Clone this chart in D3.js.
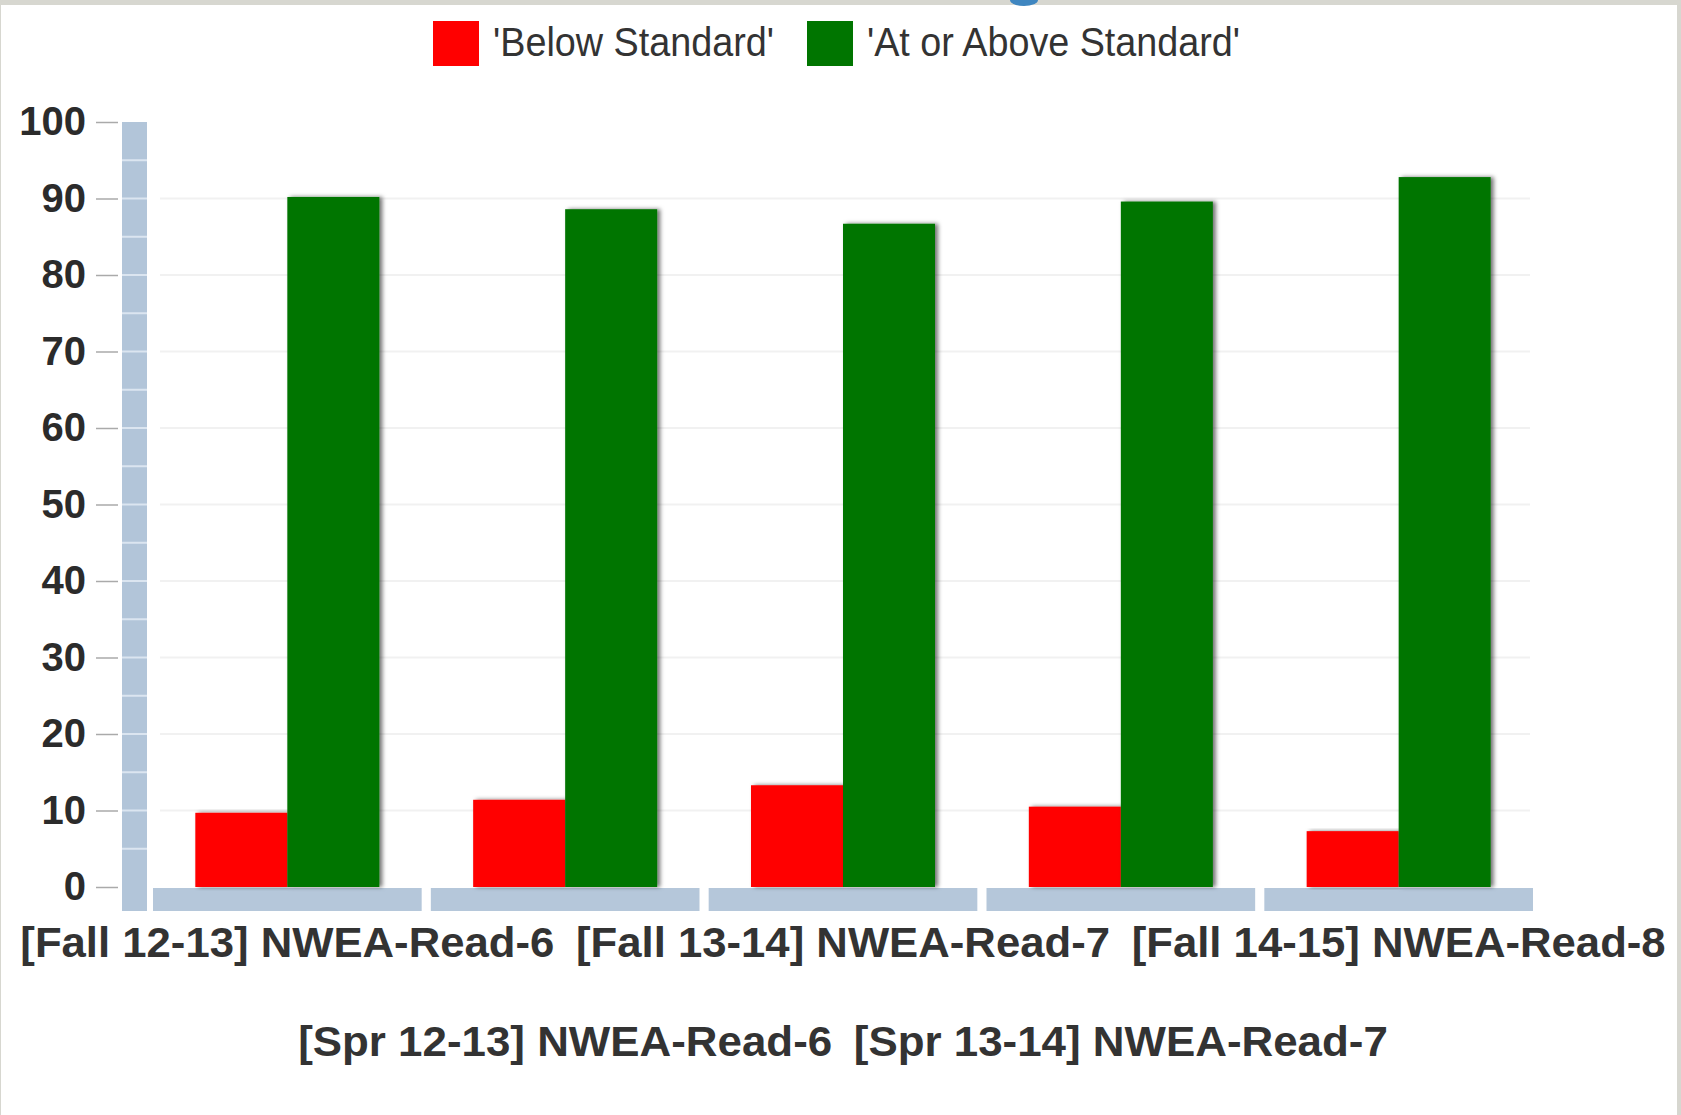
<!DOCTYPE html>
<html>
<head>
<meta charset="utf-8">
<script src="https://cdn.jsdelivr.net/npm/d3@7"></script>
<style>
  html, body { margin: 0; padding: 0; background: #d7d7d0; }
  svg { display: block; }
</style>
</head>
<body>
<div id="chart"></div>
<script>
// chart data
var categories = [
  "[Fall 12-13] NWEA-Read-6",
  "[Spr 12-13] NWEA-Read-6",
  "[Fall 13-14] NWEA-Read-7",
  "[Spr 13-14] NWEA-Read-7",
  "[Fall 14-15] NWEA-Read-8"
];
var seriesNames = ["'Below Standard'", "'At or Above Standard'"];
var belowValues = [9.7, 11.4, 13.3, 10.5, 7.3];
var aboveValues = [90.2, 88.6, 86.7, 89.6, 92.8];
var yTicks = [0, 10, 20, 30, 40, 50, 60, 70, 80, 90, 100];
var seriesColors = ["#ff0000", "#007500"];

var W = 1681, H = 1115;
var svg = d3.select("#chart").append("svg").attr("width", W).attr("height", H);

// white panel inside textured border
svg.append("rect").attr("x", 1).attr("y", 5).attr("width", 1676).attr("height", H - 5).attr("fill", "#ffffff");
// bit of the cut-off title icon at the top
svg.append("path").attr("d", "M1010,0 A14,6 0 0 0 1038,0 Z").attr("fill", "#3f86c0");

var defs = svg.append("defs");
var shadow = defs.append("filter").attr("id", "barShadow").attr("x", "-10%").attr("y", "-5%").attr("width", "130%").attr("height", "110%");
shadow.append("feDropShadow").attr("dx", 3).attr("dy", 0).attr("stdDeviation", 2)
  .attr("flood-color", "#000").attr("flood-opacity", 0.55);

var y = d3.scaleLinear().domain([0, 100]).range([887, 122]);
var x = d3.scaleBand().domain(categories).range([153, 1533]).paddingInner(0.033);
var xSub = d3.scaleBand().domain(seriesNames).range([0, x.bandwidth()]).paddingOuter(0.46);

// grid lines
svg.append("g").selectAll("line").data(yTicks.filter(function (d) { return d > 0 && d < 100; })).enter().append("line")
  .attr("x1", 160).attr("x2", 1530)
  .attr("y1", function (d) { return y(d); }).attr("y2", function (d) { return y(d); })
  .attr("stroke", "#f1f1f1").attr("stroke-width", 2);

// vertical axis bar with light stripes
svg.append("rect").attr("x", 122).attr("y", 122).attr("width", 25).attr("height", 789).attr("fill", "#b2c5d9");
svg.append("g").selectAll("line").data(d3.range(5, 100, 5)).enter().append("line")
  .attr("x1", 122).attr("x2", 147)
  .attr("y1", function (d) { return y(d); }).attr("y2", function (d) { return y(d); })
  .attr("stroke", "#dbe5f0").attr("stroke-width", 2);

// y axis
var yAxis = svg.append("g").attr("transform", "translate(118,0)")
  .call(d3.axisLeft(y).tickValues(yTicks).tickSize(22).tickPadding(10));
yAxis.select(".domain").remove();
yAxis.selectAll(".tick line").attr("stroke", "#aaaaaa").attr("stroke-width", 1.5);
yAxis.selectAll(".tick text")
  .attr("fill", "#2b2b2b")
  .style("font-family", "'Liberation Sans', Arial, sans-serif")
  .style("font-size", "40px").style("font-weight", "bold");

// category base segments
svg.append("g").selectAll("rect").data(categories).enter().append("rect")
  .attr("x", function (d) { return x(d); }).attr("y", 888)
  .attr("width", x.bandwidth()).attr("height", 23)
  .attr("fill", "#b5c7da");

// bars
var groups = svg.append("g").selectAll("g").data(categories).enter().append("g")
  .attr("transform", function (d) { return "translate(" + x(d) + ",0)"; });
groups.append("rect")
  .attr("x", xSub(seriesNames[0])).attr("width", xSub.bandwidth())
  .attr("y", function (d, i) { return y(belowValues[i]); })
  .attr("height", function (d, i) { return y(0) - y(belowValues[i]); })
  .attr("fill", seriesColors[0]).attr("filter", "url(#barShadow)");
groups.append("rect")
  .attr("x", xSub(seriesNames[1])).attr("width", xSub.bandwidth())
  .attr("y", function (d, i) { return y(aboveValues[i]); })
  .attr("height", function (d, i) { return y(0) - y(aboveValues[i]); })
  .attr("fill", seriesColors[1]).attr("filter", "url(#barShadow)");

// x axis, staggered labels
var xAxis = svg.append("g").attr("transform", "translate(0,911)")
  .call(d3.axisBottom(x).tickSize(0).tickPadding(0));
xAxis.select(".domain").remove();
xAxis.selectAll(".tick text")
  .attr("dy", 0)
  .attr("y", function (d, i) { return i % 2 ? 145 : 46; })
  .attr("textLength", 534)
  .attr("lengthAdjust", "spacingAndGlyphs")
  .attr("fill", "#333333")
  .style("font-family", "'Liberation Sans', Arial, sans-serif")
  .style("font-size", "43px").style("font-weight", "bold");

// legend
var legendX = [433, 807];
var legendW = [281, 373];
var legend = svg.append("g").selectAll("g").data(seriesNames).enter().append("g")
  .attr("transform", function (d, i) { return "translate(" + legendX[i] + ",21)"; });
legend.append("rect").attr("width", 46).attr("height", 45)
  .attr("fill", function (d, i) { return seriesColors[i]; });
legend.append("text").attr("x", 60).attr("y", 35)
  .attr("textLength", function (d, i) { return legendW[i]; })
  .attr("lengthAdjust", "spacingAndGlyphs")
  .attr("fill", "#333333")
  .style("font-family", "'Liberation Sans', Arial, sans-serif")
  .style("font-size", "40px")
  .text(function (d) { return d; });
</script>
</body>
</html>
